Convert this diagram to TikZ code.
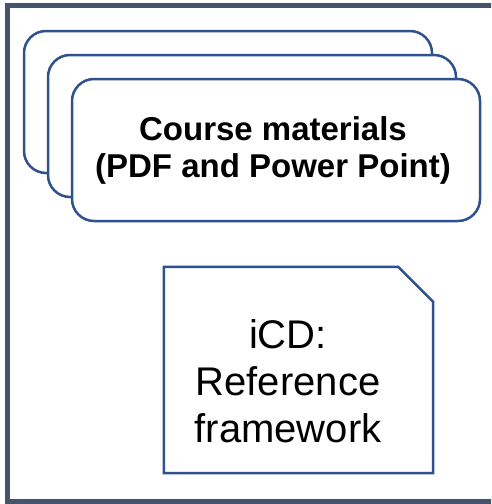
\documentclass[tikz,border=0pt]{standalone}
\usepackage{fontspec}
\setmainfont{Liberation Sans}
\begin{document}
\begin{tikzpicture}[x=1pt,y=-1pt,
  framecol/.style={draw=frameblue, line width=5pt},
  card/.style={draw=cardblue, line width=2.5pt, fill=white, rounded corners=22pt,
    minimum width=408pt, minimum height=142pt, inner sep=0pt},
  notebox/.style={draw=none, minimum width=269pt, minimum height=206pt, inner sep=0pt},
  noteline/.style={draw=cardblue, line width=2.5pt, fill=white, line join=miter},
  cardtext/.style={font=\fontsize{33}{37}\selectfont\bfseries, align=center},
  notetext/.style={font=\fontsize{40}{47}\selectfont, align=center}]
\definecolor{frameblue}{HTML}{44546A}
\definecolor{cardblue}{HTML}{2F528F}
\useasboundingbox (0,0) rectangle (491,504);
\clip (0,0) rectangle (491,504);
\fill[white] (0,0) rectangle (491,504);
% outer frame, running off the right edge
\draw[framecol] (7.5,5.8) rectangle (520,501.5);
% stack of three cards, back to front
\node[card] (c1) at (228,102) {};
\node[card] (c2) at (252,126) {};
\node[card] (c3) at (276,150) {};
\node[cardtext] (t3) at (273,150) {Course materials\\(PDF and Power Point)};
% note with clipped top-right corner
\node[notebox] (note) at (298.5,370) {};
\path[noteline] (note.south west) -- (note.north west)
  -- ([xshift=-35pt]note.north east) -- ([yshift=-35pt]note.north east)
  -- (note.south east) -- cycle;
\node[notetext] (nt) at (288,381) {iCD:\\Reference\\framework};
\end{tikzpicture}
\end{document}
